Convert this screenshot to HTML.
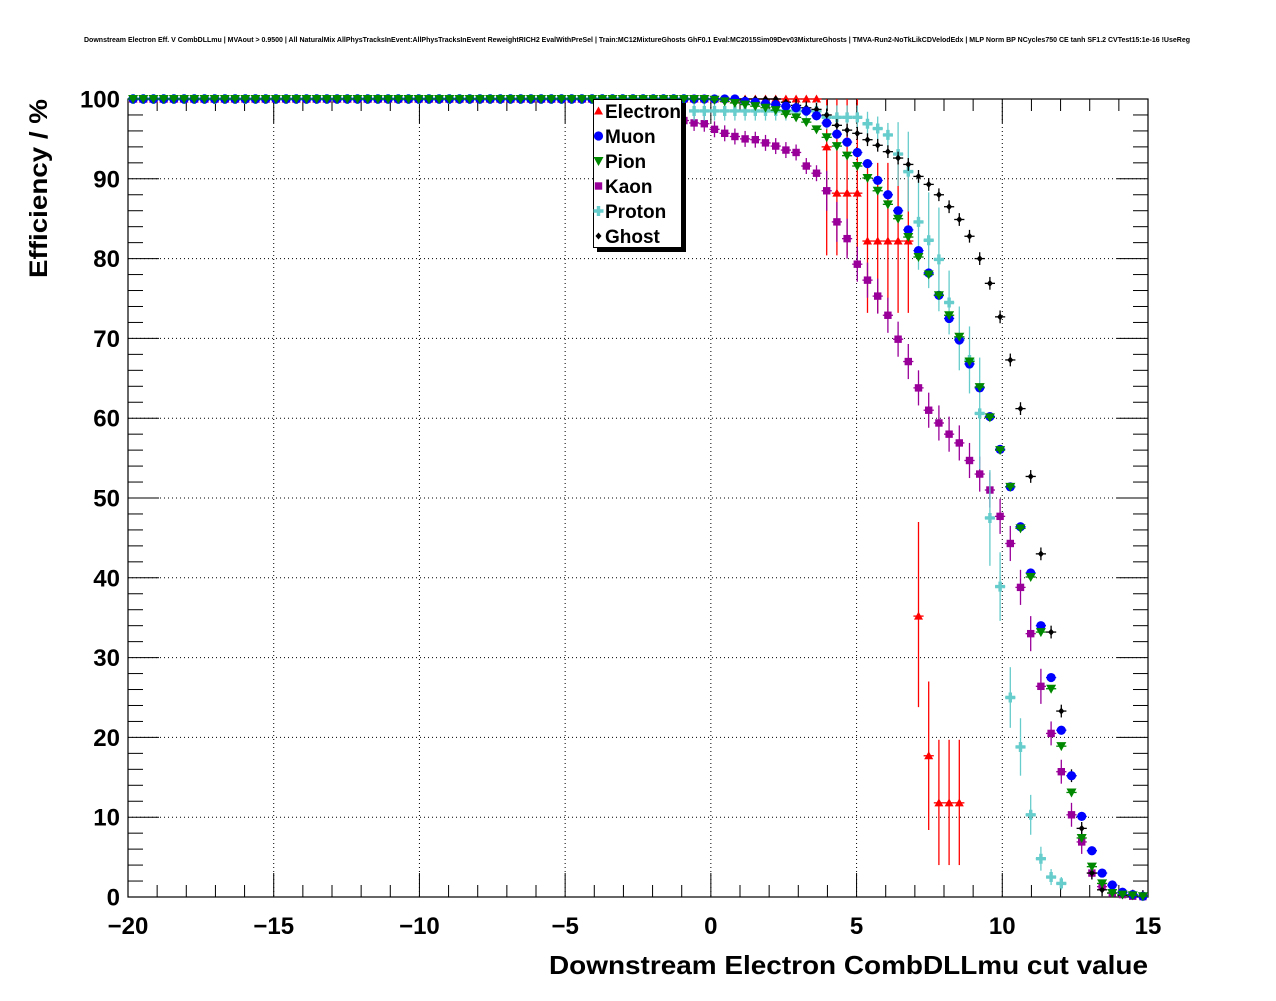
<!DOCTYPE html>
<html><head><meta charset="utf-8"><style>
html,body{margin:0;padding:0;background:#fff;}
svg text{font-family:"Liberation Sans",Arial,sans-serif;}
</style></head><body>
<svg id="chart" width="1276" height="996" viewBox="0 0 1276 996" xmlns="http://www.w3.org/2000/svg">
<rect x="0" y="0" width="1276" height="996" fill="#fff"/>
<text x="637" y="42" font-size="7" font-weight="bold" text-anchor="middle" textLength="1106" lengthAdjust="spacingAndGlyphs">Downstream Electron Eff. V CombDLLmu | MVAout &gt; 0.9500 | All NaturalMix AllPhysTracksInEvent:AllPhysTracksInEvent ReweightRICH2 EvalWithPreSel | Train:MC12MixtureGhosts GhF0.1 Eval:MC2015Sim09Dev03MixtureGhosts | TMVA-Run2-NoTkLikCDVelodEdx | MLP Norm BP NCycles750 CE tanh SF1.2 CVTest15:1e-16 !UseReg</text>
<g id="grid"></g>
<g id="axes"></g>
<g id="marks"></g>
<text transform="translate(47,99) rotate(-90)" font-size="25" font-weight="bold" text-anchor="end" textLength="179" lengthAdjust="spacingAndGlyphs">Efficiency / %</text>
<text x="1148" y="974" font-size="26" font-weight="bold" text-anchor="end" textLength="599" lengthAdjust="spacingAndGlyphs">Downstream Electron CombDLLmu cut value</text>
<g id="legend"></g>
</svg>
<script>
// ---- data ----
const xMin = -20, xMax = 15, yMin = 0, yMax = 100;
const nBins = 100;
const xTicks = [-20, -15, -10, -5, 0, 5, 10, 15];
const xTickLabels = ["\u221220", "\u221215", "\u221210", "\u22125", "0", "5", "10", "15"];
const yTicks = [0, 10, 20, 30, 40, 50, 60, 70, 80, 90, 100];
const yTickLabels = ["0", "10", "20", "30", "40", "50", "60", "70", "80", "90", "100"];
const seriesNames = ["Electron", "Muon", "Pion", "Kaon", "Proton", "Ghost"];
const N = null;
const electronVals = [
100,100,100,100,100,100,100,100,100,100,
100,100,100,100,100,100,100,100,100,100,
100,100,100,100,100,100,100,100,100,100,
100,100,100,100,100,100,100,100,100,100,
100,100,100,100,100,100,100,100,100,100,
100,100,100,100,100,100,100,100,100,100,
100,100,100,100,100,100,100,100,94.0,88.2,
88.2,88.2,82.2,82.2,82.2,82.2,82.2,35.2,17.7,11.8,
11.8,11.8,N,N,N,N,N,N,N,N,
N,N,N,N,N,N,N,N,N,N];
const electronErrLo = [
0,0,0,0,0,0,0,0,0,0, 0,0,0,0,0,0,0,0,0,0, 0,0,0,0,0,0,0,0,0,0,
0,0,0,0,0,0,0,0,0,0, 0,0,0,0,0,0,0,0,0,0, 0,0,0,0,0,0,0,0,0,0,
0,0,0,0,0,0,0,0,13.6,7.8,
7.8,7.8,9.0,9.0,9.0,9.0,9.0,11.4,9.3,7.8,
7.8,7.8,0,0,0,0,0,0,0,0, 0,0,0,0,0,0,0,0,0,0];
const electronErrHi = [
0,0,0,0,0,0,0,0,0,0, 0,0,0,0,0,0,0,0,0,0, 0,0,0,0,0,0,0,0,0,0,
0,0,0,0,0,0,0,0,0,0, 0,0,0,0,0,0,0,0,0,0, 0,0,0,0,0,0,0,0,0,0,
0,0,0,0,0,0,0,0,6.0,11.8,
11.8,11.8,9.8,9.8,9.8,9.8,9.8,11.8,9.3,7.9,
7.9,7.9,0,0,0,0,0,0,0,0, 0,0,0,0,0,0,0,0,0,0];
const muonVals = [
100,100,100,100,100,100,100,100,100,100,
100,100,100,100,100,100,100,100,100,100,
100,100,100,100,100,100,100,100,100,100,
100,100,100,100,100,100,100,100,100,100,
100,100,100,100,100,100,100,100,100,100,
100,100,100,100,100,100,100,100,100,100,
99.7,99.6,99.4,99.3,99.1,98.9,98.5,97.9,97.0,95.6,
94.6,93.3,91.9,89.8,88.0,86.0,83.6,81.0,78.2,75.4,
72.5,69.8,66.8,63.8,60.2,56.1,51.4,46.4,40.6,34.0,
27.5,20.9,15.2,10.1,5.8,3.0,1.5,0.6,0.3,0.1];
const pionVals = [
100,100,100,100,100,100,100,100,100,100,
100,100,100,100,100,100,100,100,100,100,
100,100,100,100,100,100,100,100,100,100,
100,100,100,100,100,100,100,100,100,100,
100,100,100,100,100,100,100,100,100,100,
100,100,100,100,100,100,100,99.9,99.7,99.5,
99.3,99.1,98.9,98.6,98.1,97.7,97.1,96.2,95.2,94.1,
92.9,91.6,90.1,88.5,86.8,85.0,82.7,80.2,78.0,75.4,
72.9,70.2,67.1,63.9,60.1,56.0,51.4,46.2,40.1,33.2,
26.1,18.9,13.1,7.4,3.8,1.7,0.5,0.3,0.2,0.1];
const kaonVals = [
100,100,100,100,100,100,100,100,100,100,
100,100,100,100,100,100,100,100,100,100,
100,100,100,100,100,100,100,100,100,100,
100,100,100,100,100,100,100,100,100,100,
100,100,100,100,100,100,100,100,100,100,
100,100,98.5,97.8,97.3,97.0,96.9,96.2,95.7,95.3,
95.0,94.9,94.5,94.1,93.6,93.3,91.6,90.7,88.5,84.6,
82.5,79.3,77.3,75.3,72.9,69.9,67.1,63.8,61.0,59.4,
58.0,56.9,54.7,53.0,51.0,47.7,44.3,38.8,33.0,26.4,
20.5,15.7,10.3,6.9,3.0,1.3,0.5,0.3,0.1,0.05];
const kaonErr = [
0,0,0,0,0,0,0,0,0,0, 0,0,0,0,0,0,0,0,0,0, 0,0,0,0,0,0,0,0,0,0,
0,0,0,0,0,0,0,0,0,0, 0,0,0,0,0,0,0,0,0,0,
0,0,1.0,1.0,1.0,1.0,1.0,1.0,1.0,1.0,
1.0,1.0,1.0,1.0,1.0,1.0,1.0,1.0,2.5,2.5,
2.5,2.2,2.2,2.2,2.2,2.2,2.2,2.2,2.2,2.2,
2.2,2.2,2.2,2.2,2.2,2.2,2.2,2.2,2.2,2.2,
1.5,1.5,1.5,1.5,0.8,0.8,0.8,0.8,0.8,0.8];
const protonVals = [
100,100,100,100,100,100,100,100,100,100,
100,100,100,100,100,100,100,100,100,100,
100,100,100,100,100,100,100,100,100,100,
100,100,100,100,100,100,100,100,100,100,
100,100,100,100,100,100,100,100,100,100,
100,100,100,100,100,98.5,98.5,98.5,98.5,98.5,
98.5,98.5,98.5,98.5,98.5,98.5,98.5,98.5,97.7,97.7,
97.7,97.7,96.9,96.3,95.5,93.1,90.9,84.6,82.3,79.9,
74.5,70.0,67.3,60.6,47.5,38.9,25.0,18.8,10.3,4.8,
2.5,1.7,N,N,N,N,N,N,N,N];
const protonErr = [
0,0,0,0,0,0,0,0,0,0, 0,0,0,0,0,0,0,0,0,0, 0,0,0,0,0,0,0,0,0,0,
0,0,0,0,0,0,0,0,0,0, 0,0,0,0,0,0,0,0,0,0,
0,0,0,0,0,1.2,1.2,1.2,1.2,1.2,
1.2,1.2,1.2,1.2,1.2,1.2,1.2,1.2,1.5,1.5,
1.5,1.5,1.5,1.5,1.5,4.0,5.0,6.0,6.0,6.5,
4.0,4.0,4.2,7.0,6.0,4.3,3.8,3.6,2.5,1.5,
1.0,0.8,0,0,0,0,0,0,0,0];
const ghostVals = [
100,100,100,100,100,100,100,100,100,100,
100,100,100,100,100,100,100,100,100,100,
100,100,100,100,100,100,100,100,100,100,
100,100,100,100,100,100,100,100,100,100,
100,100,100,100,100,100,100,100,100,100,
100,100,100,100,100,100,100,100,100,100,
100,100,100,100,99.6,99.2,98.9,98.7,98.0,96.7,
96.1,95.7,94.9,94.2,93.4,92.6,91.8,90.3,89.3,88.0,
86.5,84.9,82.8,80.0,76.9,72.7,67.3,61.2,52.7,43.0,
33.2,23.3,15.2,8.6,3.0,0.9,0.5,0.2,0.1,0.05];

// ---- layout ----
const L = 128, R = 1148, T = 99, B = 897;
const sx = v => L + (v - xMin) / (xMax - xMin) * (R - L);
const sy = v => B - (v - yMin) / (yMax - yMin) * (B - T);
const binW = (xMax - xMin) / nBins;
const binCenter = k => xMin + binW * (k + 0.5);
const NS = "http://www.w3.org/2000/svg";
function mk(tag, attrs, parent) {
  const e = document.createElementNS(NS, tag);
  for (const a in attrs) e.setAttribute(a, attrs[a]);
  parent.appendChild(e);
  return e;
}
const grid = document.getElementById('grid');
const axes = document.getElementById('axes');
const marks = document.getElementById('marks');
const legend = document.getElementById('legend');

// grid
xTicks.forEach((t, i) => {
  if (t === xMin || t === xMax) return;
  const g = mk('line', {x1: sx(t), x2: sx(t), y1: T, y2: B, stroke: '#000', 'stroke-width': 1, 'stroke-dasharray': '1 3'}, grid);
  
  
});
yTicks.forEach((t, i) => {
  if (t === yMin || t === yMax) return;
  const g = mk('line', {x1: L, x2: R, y1: sy(t), y2: sy(t), stroke: '#000', 'stroke-width': 1, 'stroke-dasharray': '1 3'}, grid);
  
  
});

// frame
const frame = mk('rect', {x: L, y: T, width: R - L, height: B - T, fill: 'none', stroke: '#000', 'stroke-width': 1.2}, axes);



// x ticks (major every 5, minor every 1), bottom and top
for (let v = xMin; v <= xMax; v += 1) {
  const major = (v % 5 === 0);
  const len = major ? 24 : 12;
  const t1 = mk('line', {x1: sx(v), x2: sx(v), y1: B, y2: B - len, stroke: '#000', 'stroke-width': 1}, axes);
  
  
  const t2 = mk('line', {x1: sx(v), x2: sx(v), y1: T, y2: T + len, stroke: '#000', 'stroke-width': 1}, axes);
  
  
}
xTicks.forEach((t, i) => {
  const tx = mk('text', {x: sx(t), y: 934, 'font-size': 24, 'font-weight': 'bold', 'text-anchor': 'middle'}, axes);
  tx.textContent = xTickLabels[i];
  
  
});
// y ticks (major every 10, minor every 2), left and right
for (let v = yMin; v <= yMax; v += 2) {
  const major = (v % 10 === 0);
  const len = major ? 31 : 15;
  const t1 = mk('line', {x1: L, x2: L + len, y1: sy(v), y2: sy(v), stroke: '#000', 'stroke-width': 1}, axes);
  
  
  const t2 = mk('line', {x1: R, x2: R - len, y1: sy(v), y2: sy(v), stroke: '#000', 'stroke-width': 1}, axes);
  
  
}
yTicks.forEach((t, i) => {
  const tx = mk('text', {x: 120, y: sy(t) + 8.5, 'font-size': 24, 'font-weight': 'bold', 'text-anchor': 'end'}, axes);
  tx.textContent = yTickLabels[i];
  
  
});

// markers
function drawMarker(shape, color, cx, cy, parent) {
  let m;
  if (shape === 'tri-up') {
    m = mk('polygon', {points: `${cx-4.5},${cy+3.5} ${cx+4.5},${cy+3.5} ${cx},${cy-4.5}`, fill: color}, parent);
  } else if (shape === 'tri-down') {
    m = mk('polygon', {points: `${cx-5},${cy-4} ${cx+5},${cy-4} ${cx},${cy+5}`, fill: color}, parent);
  } else if (shape === 'circle') {
    m = mk('circle', {cx: cx, cy: cy, r: 4.6, fill: color}, parent);
  } else if (shape === 'square') {
    m = mk('rect', {x: cx - 3.7, y: cy - 3.7, width: 7.4, height: 7.4, fill: color}, parent);
  } else if (shape === 'cross') {
    m = mk('path', {d: `M${cx-5},${cy-1.7}h3.3v-3.3h3.4v3.3h3.3v3.4h-3.3v3.3h-3.4v-3.3h-3.3z`, fill: color}, parent);
  } else {
    m = mk('path', {d: `M${cx-3},${cy}L${cx},${cy-3.5}L${cx+3},${cy}L${cx},${cy+3.5}z`, fill: color}, parent);
  }
  return m;
}

const seriesDefs = [
  {vals: electronVals, lo: electronErrLo, hi: electronErrHi, color: '#ff0000', shape: 'tri-up', name: 'electron'},
  {vals: kaonVals, lo: kaonErr, hi: kaonErr, color: '#990099', shape: 'square', name: 'kaon'},
  {vals: protonVals, lo: protonErr, hi: protonErr, color: '#66cccc', shape: 'cross', name: 'proton'},
  {vals: ghostVals, lo: null, hi: null, color: '#000000', shape: 'diamond', name: 'ghost'},
  {vals: muonVals, lo: null, hi: null, color: '#0000ff', shape: 'circle', name: 'muon'},
  {vals: pionVals, lo: null, hi: null, color: '#008800', shape: 'tri-down', name: 'pion'}
];

seriesDefs.forEach(s => {
  const g = mk('g', {}, marks);
  
  
  s.vals.forEach((v, k) => {
    if (v === null) return;
    const xc = binCenter(k);
    const cx = sx(xc), cy = sy(v);
    // horizontal x-error bar
    const hb = mk('line', {x1: sx(xc - binW / 2), x2: sx(xc + binW / 2), y1: cy, y2: cy, stroke: s.color, 'stroke-width': 1.3}, g);
    
    
    let lo = 0, hi = 0;
    if (s.lo) { lo = s.lo[k] || 0; hi = s.hi[k] || 0; }
    else if (s.name === 'ghost' && k >= 64) { lo = 0.8; hi = 0.8; }
    if (lo > 0 || hi > 0) {
      const vb = mk('line', {x1: cx, x2: cx, y1: sy(Math.min(100, v + hi)), y2: sy(Math.max(0, v - lo)), stroke: s.color, 'stroke-width': 1.3}, g);
      
      
    }
    const m = drawMarker(s.shape, s.color, cx, cy, g);
    
    
  });
});

// legend
const legShadow = mk('rect', {x: 597, y: 103, width: 89, height: 149, fill: '#000'}, legend);


const legBox = mk('rect', {x: 593.5, y: 99.5, width: 88, height: 148, fill: '#fff', stroke: '#000', 'stroke-width': 1}, legend);


const legendShapes = ['tri-up', 'circle', 'tri-down', 'square', 'cross', 'diamond'];
const legendColors = ['#ff0000', '#0000ff', '#008800', '#990099', '#66cccc', '#000000'];
seriesNames.forEach((nm, i) => {
  const y = 111 + i * 25;
  const g = mk('g', {}, legend);
  
  
  const m = drawMarker(legendShapes[i], legendColors[i], 598.5, y, g);
  
  
  const t = mk('text', {x: 605, y: y + 7, 'font-size': 19, 'font-weight': 'bold'}, g);
  t.textContent = nm;
  
  
});
</script>
</body></html>
